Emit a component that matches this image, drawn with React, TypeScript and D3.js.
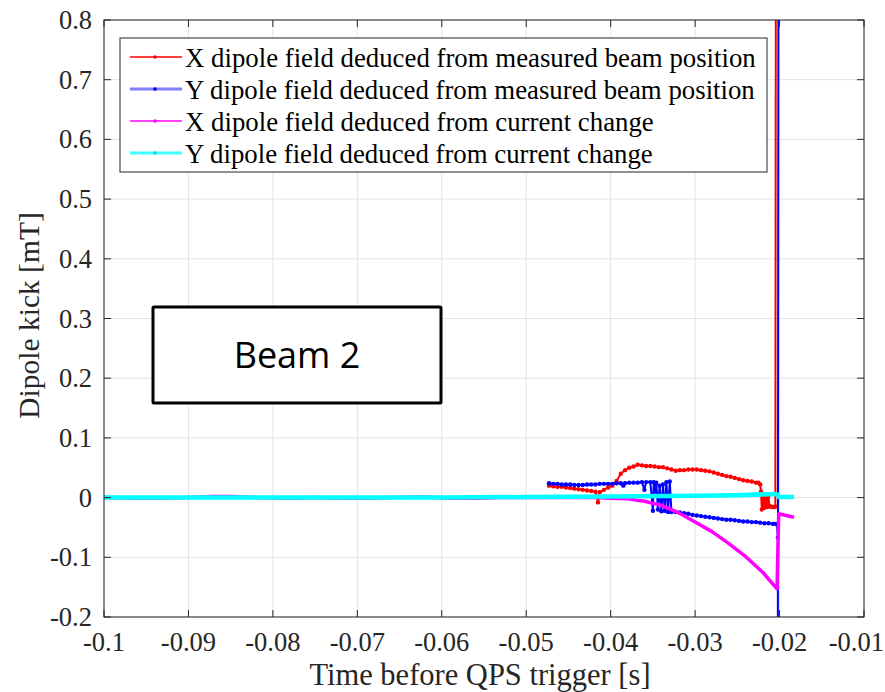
import React from "react";
import * as d3 from "d3";

// ---- data (time in s, field in mT) ----
const xBeamT = [
  -0.0473, -0.0468, -0.0463, -0.0458, -0.0453, -0.0448, -0.0443, -0.0438, -0.0433, -0.0428,
  -0.0423, -0.0418, -0.0415, -0.0413, -0.0408, -0.0403, -0.0398, -0.0393, -0.0388, -0.0383,
  -0.0378, -0.0373, -0.0368, -0.0363, -0.0358, -0.0353, -0.0348, -0.0343, -0.0338, -0.0333,
  -0.0328, -0.0323, -0.0318, -0.0313, -0.0308, -0.0303, -0.0298, -0.0293, -0.0288, -0.0283,
  -0.0278, -0.0273, -0.0268, -0.0263, -0.0258, -0.0253, -0.0248, -0.0243, -0.0238, -0.0233,
  -0.0228, -0.0225, -0.0223, -0.0222, -0.0221, -0.0219, -0.0218, -0.0216, -0.0215, -0.0213,
  -0.0212, -0.0210, -0.0208, -0.0206, -0.0205, -0.0204,
];
const xBeamV = [
  0.020, 0.019, 0.018, 0.018, 0.017, 0.016, 0.015, 0.014, 0.013, 0.012,
  0.011, 0.010, -0.008, 0.009, 0.013, 0.017, 0.020, 0.028, 0.040, 0.046,
  0.050, 0.052, 0.055, 0.054, 0.053, 0.053, 0.052, 0.051, 0.051, 0.049,
  0.047, 0.045, 0.046, 0.046, 0.047, 0.047, 0.047, 0.046, 0.045, 0.044,
  0.042, 0.040, 0.038, 0.036, 0.035, 0.033, 0.031, 0.029, 0.028, 0.027,
  0.025, 0.025, 0.022, 0.010, -0.020, 0.005, -0.017, 0.004, -0.016, 0.003,
  -0.015, -0.015, -0.016, -0.016, -0.015, 1.5,
];

const yBeamT = [
  -0.0473, -0.0468, -0.0463, -0.0458, -0.0453, -0.0448, -0.0443, -0.0438, -0.0433, -0.0428,
  -0.0423, -0.0418, -0.0413, -0.0408, -0.0403, -0.0398, -0.0393, -0.0388, -0.0385, -0.0383,
  -0.0378, -0.0373, -0.0368, -0.0363, -0.0360, -0.0358, -0.0353, -0.0350, -0.0349, -0.0347,
  -0.0346, -0.0344, -0.0342, -0.0340, -0.0338, -0.0336, -0.0334, -0.0332, -0.0330, -0.0328,
  -0.0323, -0.0318, -0.0313, -0.0308, -0.0303, -0.0298, -0.0293, -0.0288, -0.0283, -0.0278,
  -0.0273, -0.0268, -0.0263, -0.0258, -0.0253, -0.0248, -0.0243, -0.0238, -0.0233, -0.0228,
  -0.0223, -0.0218, -0.0213, -0.0208, -0.0205, -0.0203, -0.0202, -0.0202, -0.0201,
];
const yBeamV = [
  0.024, 0.023, 0.023, 0.022, 0.022, 0.022, 0.021, 0.021, 0.021, 0.022,
  0.022, 0.022, 0.023, 0.023, 0.023, 0.023, 0.024, 0.024, 0.020, 0.024,
  0.025, 0.025, 0.025, 0.026, 0.013, 0.026, 0.026, -0.022, 0.026, 0.010,
  0.025, -0.020, 0.020, -0.023, 0.022, -0.022, 0.026, -0.024, 0.027, -0.024,
  -0.024, -0.025, -0.026, -0.027, -0.029, -0.030, -0.031, -0.032, -0.033, -0.034,
  -0.035, -0.036, -0.037, -0.037, -0.038, -0.039, -0.040, -0.040, -0.041, -0.041,
  -0.042, -0.043, -0.043, -0.044, -0.044, -0.045, -0.067, -0.25, 1.5,
];

const xCurT = [
  -0.1, -0.095, -0.09, -0.087, -0.085, -0.082, -0.078, -0.075, -0.072, -0.069,
  -0.066, -0.062, -0.059, -0.056, -0.053, -0.05, -0.046, -0.042, -0.04, -0.038,
  -0.036, -0.034, -0.032, -0.03, -0.028, -0.026, -0.024, -0.022, -0.0203, -0.0201,
  -0.0183,
];
const xCurV = [
  0.0, -0.001, 0.0, 0.002, 0.002, 0.0, -0.001, 0.0, -0.001, -0.001,
  0.0, 0.001, -0.001, -0.001, 0.0, 0.0, 0.0, 0.0, -0.001, -0.002,
  -0.006, -0.013, -0.025, -0.041, -0.057, -0.077, -0.099, -0.125, -0.153, -0.027,
  -0.033,
];

const yCurT = [-0.1, -0.09, -0.08, -0.07, -0.06, -0.05, -0.04, -0.03, -0.025, -0.0205, -0.0202, -0.0201, -0.0183];
const yCurV = [0.0, 0.0, 0.0, 0.0, 0.0, 0.001, 0.002, 0.003, 0.004, 0.006, 0.005, 0.001, 0.001];

const xTicks = [-0.1, -0.09, -0.08, -0.07, -0.06, -0.05, -0.04, -0.03, -0.02, -0.01];
const xTickLabels = ["-0.1", "-0.09", "-0.08", "-0.07", "-0.06", "-0.05", "-0.04", "-0.03", "-0.02", "-0.01"];
const yTicks = [-0.2, -0.1, 0, 0.1, 0.2, 0.3, 0.4, 0.5, 0.6, 0.7, 0.8];
const yTickLabels = ["-0.2", "-0.1", "0", "0.1", "0.2", "0.3", "0.4", "0.5", "0.6", "0.7", "0.8"];

const legendLabels = [
  "X dipole field deduced from measured beam position",
  "Y dipole field deduced from measured beam position",
  "X dipole field deduced from current change",
  "Y dipole field deduced from current change",
];

// ---- layout ----
const W = 885;
const H = 692;
const L = 104, R = 864, T = 20, B = 617;
const serif = "'Liberation Serif', 'Times New Roman', serif";

type Pt = [number, number];
const zip = (t: number[], v: number[]): Pt[] => t.map((d, i) => [d, v[i]]);

export default function App() {
  const x = d3.scaleLinear().domain([-0.1, -0.01]).range([L, R]);
  const y = d3.scaleLinear().domain([-0.2, 0.8]).range([B, T]);
  const line = d3.line<Pt>().x((d) => x(d[0])).y((d) => y(d[1]));

  const series = [
    { data: zip(xBeamT, xBeamV), color: "#ff0000", width: 2, marker: 2.2 },
    { data: zip(yBeamT, yBeamV), color: "#0000ff", width: 2, marker: 2.2 },
    { data: zip(xCurT, xCurV), color: "#ff00ff", width: 3.5, marker: 0 },
    { data: zip(yCurT, yCurV), color: "#00ffff", width: 4.5, marker: 0 },
  ];
  const legendSeries = [
    { color: "#ff0000", width: 1.5, dot: "#ff0000" },
    { color: "#8080ff", width: 3, dot: "#0000ff" },
    { color: "#ff00ff", width: 1.5, dot: "#ff00ff" },
    { color: "#40ffff", width: 3, dot: "#00e0e0" },
  ];

  const axisColor = "#262626";
  const tickLen = 7;

  return (
    <svg width={W} height={H} style={{ position: "absolute", left: 0, top: 0, background: "#fff" }}>
      <defs>
        <clipPath id="plot-clip">
          <rect x={L} y={T} width={R - L} height={B - T} />
        </clipPath>
      </defs>
      <rect x={0} y={0} width={W} height={H} fill="#fff" />

      {/* grid */}
      <g stroke="#e3e3e3" strokeWidth={1}>
        {xTicks.map((t) => (
          <line key={"gx" + t} x1={x(t)} x2={x(t)} y1={T} y2={B} />
        ))}
        {yTicks.map((t) => (
          <line key={"gy" + t} x1={L} x2={R} y1={y(t)} y2={y(t)} />
        ))}
      </g>

      {/* series */}
      <g clipPath="url(#plot-clip)">
        {series.map((s, i) => (
          <g key={"s" + i}>
            <path d={line(s.data) ?? ""} fill="none" stroke={s.color} strokeWidth={s.width} strokeLinejoin="round" />
            {s.marker > 0 &&
              s.data.map((d, j) => (
                <circle key={j} cx={x(d[0])} cy={y(d[1])} r={s.marker} fill={s.color} />
              ))}
          </g>
        ))}
      </g>

      {/* axes box and ticks */}
      <rect x={L} y={T} width={R - L} height={B - T} fill="none" stroke={axisColor} strokeWidth={1} />
      <g stroke={axisColor} strokeWidth={1}>
        {xTicks.map((t) => (
          <g key={"tx" + t}>
            <line x1={x(t)} x2={x(t)} y1={B} y2={B - tickLen} />
            <line x1={x(t)} x2={x(t)} y1={T} y2={T + tickLen} />
          </g>
        ))}
        {yTicks.map((t) => (
          <g key={"ty" + t}>
            <line x1={L} x2={L + tickLen} y1={y(t)} y2={y(t)} />
            <line x1={R} x2={R - tickLen} y1={y(t)} y2={y(t)} />
          </g>
        ))}
      </g>

      {/* tick labels */}
      <g fontFamily={serif} fontSize={26.5} fill={axisColor}>
        {xTicks.map((t, i) => {
          const last = i === xTicks.length - 1;
          return (
            <text
              key={"lx" + t}
              x={last ? W - 1 : x(t)}
              y={B + 34}
              textAnchor={last ? "end" : "middle"}
            >
              {xTickLabels[i]}
            </text>
          );
        })}
        {yTicks.map((t, i) => (
          <text key={"ly" + t} x={L - 12} y={y(t) + 9} textAnchor="end">
            {yTickLabels[i]}
          </text>
        ))}
      </g>

      {/* axis labels */}
      <text x={480} y={685} textAnchor="middle" fontFamily={serif} fontSize={30.5} fill={axisColor}>
        Time before QPS trigger [s]
      </text>
      <text
        transform={`translate(39, 315.5) rotate(-90)`}
        textAnchor="middle"
        fontFamily={serif}
        fontSize={29.5}
        fill={axisColor}
      >
        Dipole kick [mT]
      </text>

      {/* legend */}
      <g>
        <rect x={120} y={38} width={647} height={134} fill="#fff" stroke="#262626" strokeWidth={1} />
        {legendLabels.map((lab, i) => {
          const cy = 57 + i * 32;
          const s = legendSeries[i];
          return (
            <g key={"lg" + i}>
              <line x1={130} x2={182} y1={cy} y2={cy} stroke={s.color} strokeWidth={s.width} />
              <circle cx={155} cy={cy} r={1.8} fill={s.dot} />
              <text x={185} y={cy + 10} fontFamily={serif} fontSize={26.8} fill="#000">
                {lab}
              </text>
            </g>
          );
        })}
      </g>

      {/* annotation */}
      <rect x={153} y={307} width={288} height={96} fill="#fff" stroke="#000" strokeWidth={3} rx={1} />
      <text x={297} y={368} textAnchor="middle" fontFamily="'Open Sans', sans-serif" fontSize={36} fill="#000">
        Beam 2
      </text>
    </svg>
  );
}
